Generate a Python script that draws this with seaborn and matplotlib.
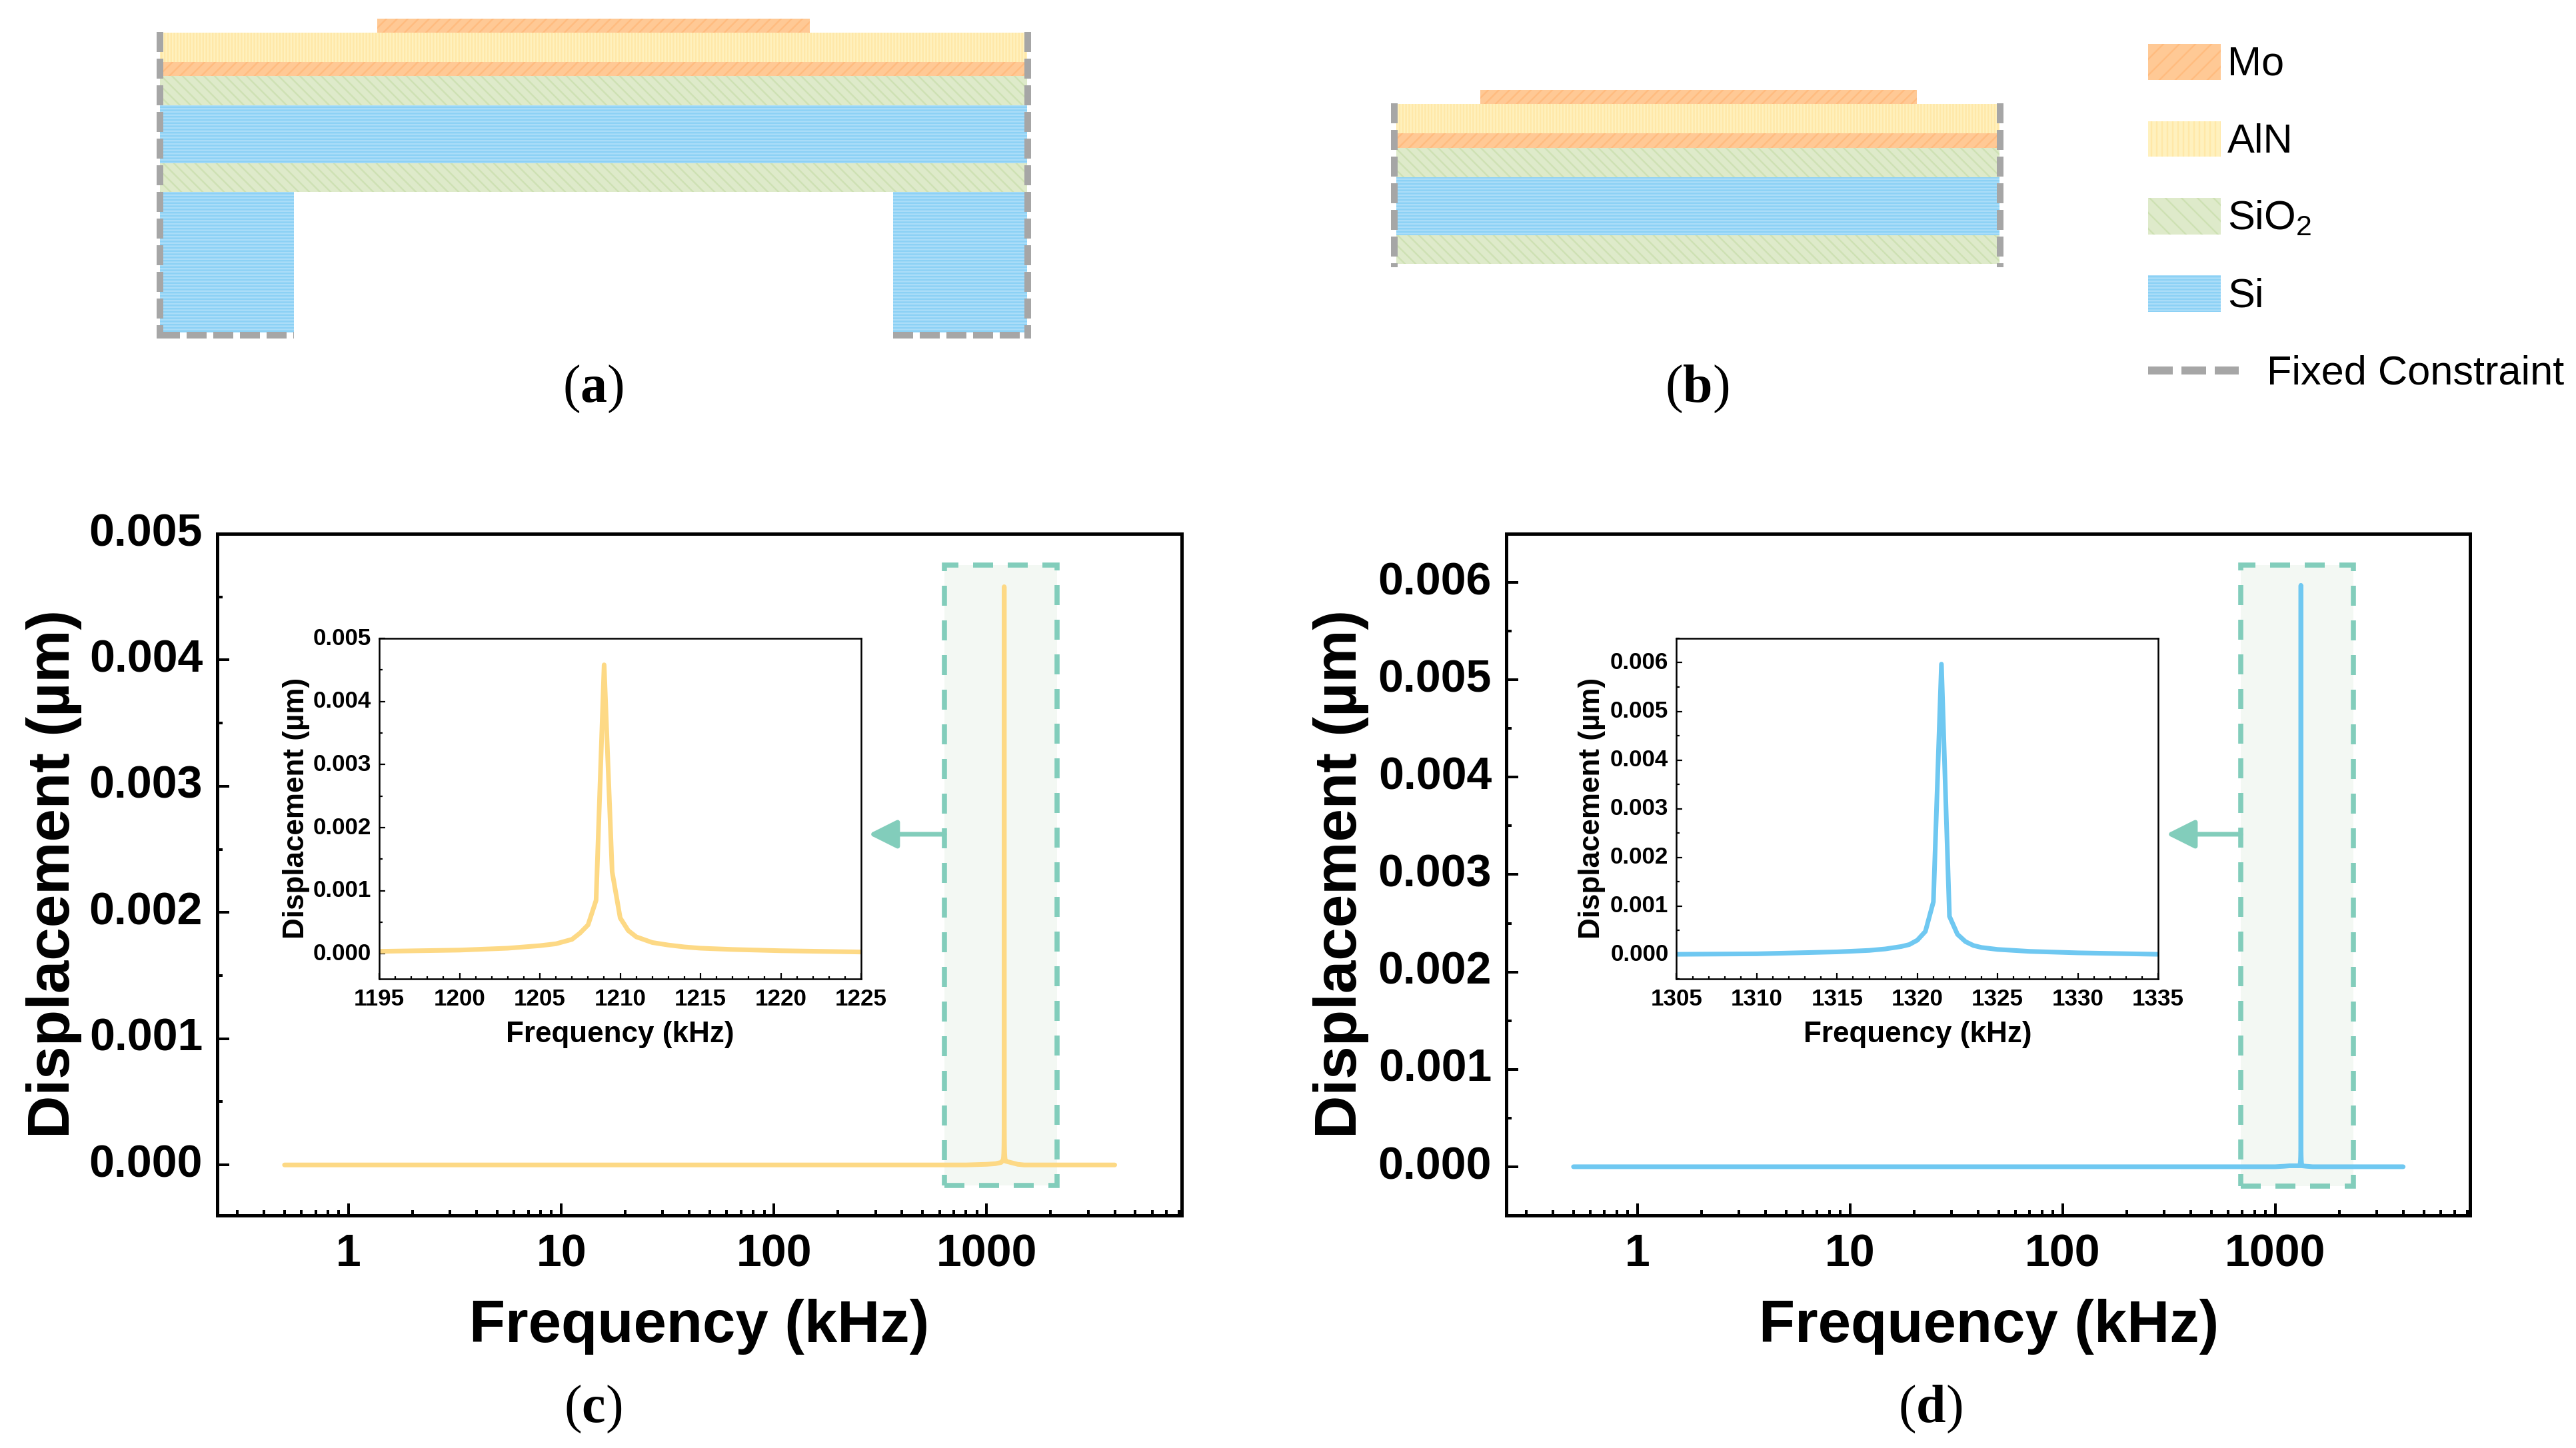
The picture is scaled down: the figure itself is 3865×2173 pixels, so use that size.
import matplotlib
matplotlib.use("Agg")
import matplotlib.pyplot as plt
from matplotlib.patches import Rectangle
from matplotlib.ticker import FixedLocator, FixedFormatter, MultipleLocator, FormatStrFormatter, NullFormatter
import seaborn as sns

# Values
freq_c = [1195, 1200, 1203, 1205, 1206, 1207, 1207.5, 1208, 1208.5, 1209, 1209.5, 1210, 1210.5, 1211,
          1212, 1213, 1214, 1215, 1217, 1220, 1225]
disp_c = [0.00004, 0.00006, 0.00009, 0.00013, 0.00016, 0.00023, 0.00033, 0.00046, 0.00085, 0.00458, 0.0013,
          0.00057, 0.00037, 0.00027, 0.00018, 0.00014, 0.00011, 0.00009, 0.00007, 0.00005, 0.00003]
freq_d = [1305, 1310, 1315, 1317, 1318, 1319, 1319.5, 1320, 1320.5, 1321, 1321.5, 1322, 1322.5, 1323,
          1323.5, 1324, 1325, 1327, 1330, 1335]
disp_d = [0.00001, 0.00002, 0.00006, 0.00009, 0.00012, 0.00017, 0.00021, 0.0003, 0.00048, 0.00109, 0.00597,
          0.00079, 0.00042, 0.00027, 0.00019, 0.00015, 0.00011, 0.00007, 0.00004, 0.00001]
# the wide sweep outside the zoomed window
low_freq = [0.5, 1, 10, 100, 500, 800, 1000, 1100, 1170]
low_disp_c = [0, 0, 0, 0, 0, 0, 0.000005, 0.00001, 0.00002]
low_disp_d = [0, 0, 0, 0, 0, 0, 0, 0.000005, 0.00001]
high_freq = [1400, 1500, 2000, 3000, 4000]
high_disp_c = [0.000005, 0, 0, 0, 0]
high_disp_d = [0.000005, 0, 0, 0, 0]

major_x = [1, 10, 100, 1000]
major_x_labels = ["1", "10", "100", "1000"]

# Layer stacks of the two schematics, top to bottom
layer_names = ["Mo", "AlN", "Mo", "SiO2", "Si", "SiO2"]
edges_a = [28, 49, 93, 114, 158, 245, 288]
edges_b = [135.5, 156, 200, 222, 266, 353, 396.5]

W, H = 3865, 2173
DPI = 144

YELLOW = "#FDD985"
BLUE = "#6FC8F1"
TEAL = "#82CDBB"
GREY = "#A6A6A6"
# fill, stripe, hatch in the schematic, hatch in the key
styles = {
    "Mo": ("#FFC995", "#FFBC80", "///", "//"),
    "AlN": ("#FFF1BE", "#FFE8A8", "|||||", "|||"),
    "SiO2": ("#DEEACA", "#CEE1B4", "\\\\\\", "\\\\"),
    "Si": ("#ABDDF8", "#8CD1F5", "-----", "-----"),
}

sns.set_theme(style="ticks")
plt.rcParams["font.family"] = ["Liberation Sans"]
plt.rcParams["mathtext.fontset"] = "custom"
plt.rcParams["mathtext.rm"] = "Liberation Serif"
plt.rcParams["mathtext.bf"] = "Liberation Serif:bold"
plt.rcParams["mathtext.default"] = "regular"
plt.rcParams["hatch.linewidth"] = 1.2
plt.rcParams["lines.scale_dashes"] = False
plt.rcParams["ytick.alignment"] = "center"

fig = plt.figure(figsize=((W + 0.1) / DPI, (H + 0.1) / DPI), dpi=DPI, facecolor="white")


def px_axes(left, top, right, bottom, **kw):
    return fig.add_axes([left / W, 1 - bottom / H, (right - left) / W, (bottom - top) / H], **kw)


# sheet axes in image pixels for the schematics, key and panel letters
sheet = px_axes(0, 0, W, H)
sheet.set_xlim(0, W)
sheet.set_ylim(H, 0)
sheet.axis("off")


def layer(left, right, top, bottom, name, key=False):
    fill, stripe, hatch, key_hatch = styles[name]
    sheet.bar(left, bottom - top, width=right - left, bottom=top, align="edge", color=fill,
              edgecolor=stripe, hatch=key_hatch if key else hatch, linewidth=0)


def constraint(xs, ys):
    sheet.plot(xs, ys, color=GREY, lw=5, linestyle=(0, (15, 5)), dash_capstyle="butt")


def stack(edges, left, right, pad_left, pad_right):
    for i, name in enumerate(layer_names):
        if i == 0:
            layer(pad_left, pad_right, edges[i], edges[i + 1], name)
        else:
            layer(left, right, edges[i], edges[i + 1], name)


# (a) membrane on two silicon legs
stack(edges_a, 240, 1541, 566, 1215)
layer(240, 441, 288, 499, "Si")
layer(1340, 1541, 288, 499, "Si")
constraint([240, 240], [48, 508])
constraint([1541.5, 1541.5], [48, 508])
constraint([240, 441], [503.5, 503.5])
constraint([1340, 1541], [503.5, 503.5])

# (b) plate only
stack(edges_b, 2095, 3000, 2221, 2876)
constraint([2092, 2092], [155, 401])
constraint([3000.5, 3000.5], [155, 401])

# key
key_rows = [("Mo", 66, 120, "Mo", 97), ("AlN", 182, 235.5, "AlN", 213),
            ("SiO2", 297.5, 352, "SiO$_2$", 329), ("Si", 413.4, 467.8, "Si", 445)]
for name, top, bottom, text, mid in key_rows:
    layer(3223, 3331.5, top, bottom, name, key=True)
    sheet.text(3342, mid, text, fontsize=30.6, color="black", va="center", ha="left")
sheet.plot([3223, 3359], [556.5, 556.5], color=GREY, lw=6, linestyle=(0, (18.5, 6.5)), dash_capstyle="butt")
sheet.text(3401, 561, "Fixed Constraint", fontsize=30.6, color="black", va="center", ha="left")

# panel letters
for letter, x, y in [("a", 890, 584), ("b", 2546, 584), ("c", 890, 2115), ("d", 2896, 2115)]:
    sheet.text(x, y, r"$(\mathbf{%s})$" % letter, family="Liberation Serif", fontsize=40, color="black",
               ha="center", va="center")


def style_box(ax, spine, size, major, minor, width, pad):
    for s in ax.spines.values():
        s.set_linewidth(spine)
        s.set_color("black")
        s.set_visible(True)
    ax.tick_params(which="major", direction="in", length=major, width=width, pad=pad, labelsize=size,
                   color="black", labelcolor="black", top=False, right=False, bottom=True, left=True)
    ax.tick_params(which="minor", direction="in", length=minor, width=width, color="black",
                   top=False, right=False, bottom=True, left=True)
    for lab in ax.get_xticklabels() + ax.get_yticklabels():
        lab.set_fontweight("bold")


def main_panel(box, freq, disp, color, ylim, shade, shade_y, arrow, ylabel_x, xlabel_x):
    ax = px_axes(*box)
    ax.set_facecolor("none")
    ax.set_xscale("log")
    ax.add_patch(Rectangle((shade[0], shade_y[0]), shade[1] - shade[0], shade_y[1] - shade_y[0],
                           facecolor="#F3F8F3", edgecolor="none", zorder=1))
    sns.lineplot(x=freq, y=disp, ax=ax, color=color, linewidth=3.5, estimator=None, sort=False,
                 solid_capstyle="round", zorder=2)
    ax.add_patch(Rectangle((shade[0], shade_y[0]), shade[1] - shade[0], shade_y[1] - shade_y[0],
                           facecolor="none", edgecolor=TEAL, linewidth=3.8,
                           linestyle=(0, (15, 11)), zorder=3))
    ax.set_xlim(0.2415, 8260)
    ax.set_ylim(*ylim)
    ax.xaxis.set_major_locator(FixedLocator(major_x))
    ax.xaxis.set_major_formatter(FixedFormatter(major_x_labels))
    minors = [m * 10.0 ** e for e in range(-1, 4) for m in range(2, 10)]
    ax.xaxis.set_minor_locator(FixedLocator(minors))
    ax.xaxis.set_minor_formatter(NullFormatter())
    ax.yaxis.set_major_locator(MultipleLocator(0.001))
    ax.yaxis.set_minor_locator(MultipleLocator(0.0005))
    ax.yaxis.set_major_formatter(FormatStrFormatter("%.3f"))
    style_box(ax, 2.5, 34, 9, 4, 2, 11)
    ax.tick_params(axis="x", which="major", pad=13)
    ax.set_xlabel("Frequency (kHz)", fontsize=44.4, fontweight="bold", color="black", va="center")
    ax.set_ylabel("Displacement (µm)", fontsize=44.5, fontweight="bold", color="black", va="center")
    ax.xaxis.set_label_coords(xlabel_x, 1991, transform=sheet.transData)
    ax.yaxis.set_label_coords(ylabel_x, 1311, transform=sheet.transData)
    ax.annotate("", xy=(arrow[0], 1252), xytext=(arrow[1], 1252), xycoords=sheet.transData,
                textcoords=sheet.transData, zorder=4,
                arrowprops=dict(arrowstyle="-|>,head_length=1.8,head_width=0.9", mutation_scale=10,
                                color=TEAL, lw=3.5, shrinkA=0, shrinkB=0))
    return ax


def inset_panel(box, freq, disp, color, xlim, ylim, ylabel_x, xlabel_x):
    ax = px_axes(*box)
    ax.set_facecolor("white")
    ax.set_zorder(5)
    sns.lineplot(x=freq, y=disp, ax=ax, color=color, linewidth=3.5, estimator=None, sort=False)
    ax.set_xlim(*xlim)
    ax.set_ylim(*ylim)
    ax.xaxis.set_major_locator(MultipleLocator(5))
    ax.xaxis.set_minor_locator(MultipleLocator(1))
    ax.yaxis.set_major_locator(MultipleLocator(0.001))
    ax.yaxis.set_minor_locator(MultipleLocator(0.0005))
    ax.yaxis.set_major_formatter(FormatStrFormatter("%.3f"))
    style_box(ax, 1.25, 17.5, 4.5, 2.25, 1.1, 6)
    ax.tick_params(axis="x", which="major", pad=7)
    ax.set_xlabel("Frequency (kHz)", fontsize=22, fontweight="bold", color="black", va="center")
    ax.set_ylabel("Displacement (µm)", fontsize=22, fontweight="bold", color="black", va="center")
    ax.xaxis.set_label_coords(xlabel_x, 1552, transform=sheet.transData)
    ax.yaxis.set_label_coords(ylabel_x, 1213, transform=sheet.transData)
    return ax


wide_c_f = low_freq + freq_c + high_freq
wide_c_d = low_disp_c + disp_c + high_disp_c
wide_d_f = low_freq + freq_d + high_freq
wide_d_d = low_disp_d + disp_d + high_disp_d

main_panel((326, 801, 1773, 1824), wide_c_f, wide_c_d, YELLOW, (-0.0004, 0.005),
           (632, 2140), (-0.00016, 0.00475), (1303, 1417), 81, 1049)
main_panel((2260, 801, 3706, 1824), wide_d_f, wide_d_d, BLUE, (-0.0005, 0.0065),
           (690, 2335), (-0.0002, 0.00618), (3250, 3362), 2012, 2984)

inset_panel((569, 958, 1292, 1469.4), freq_c, disp_c, YELLOW, (1195, 1225), (-0.0004, 0.005), 444, 930)
inset_panel((2515.4, 958, 3238, 1469.4), freq_d, disp_d, BLUE, (1305, 1335), (-0.0005, 0.0065), 2388, 2877)

fig.savefig("out.png", dpi=DPI, facecolor="white")
